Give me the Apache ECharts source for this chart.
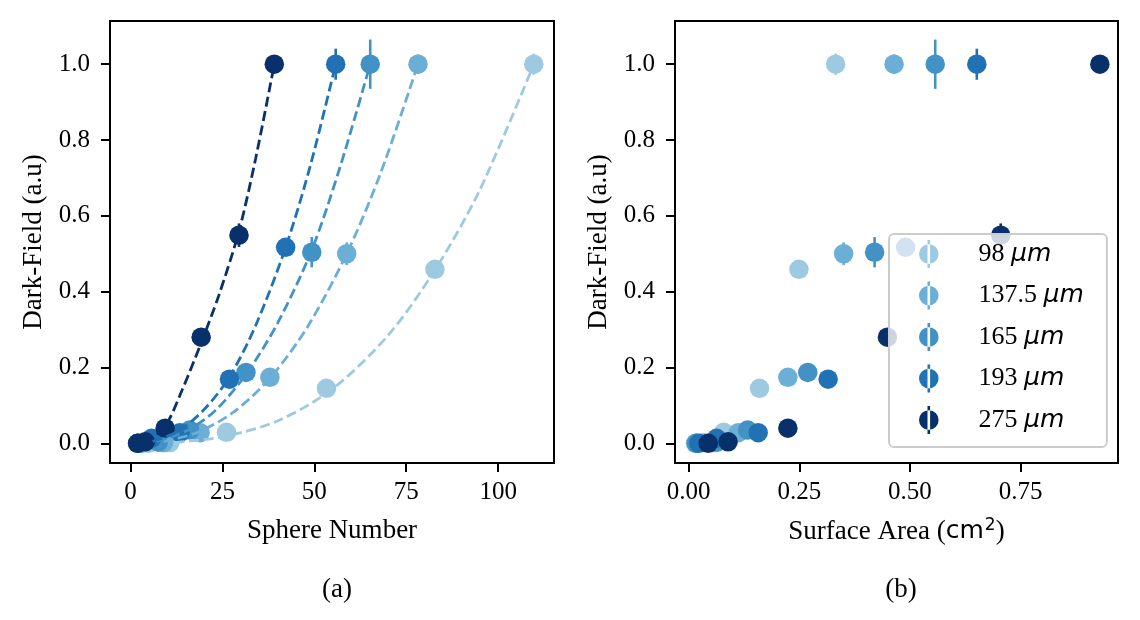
<!DOCTYPE html>
<html><head><meta charset="utf-8">
<script src="https://cdn.jsdelivr.net/npm/echarts@6/dist/echarts.min.js"></script>
<style>html,body{margin:0;padding:0;background:#fff}#c{width:1140px;height:620px}</style>
</head><body><div id="c"></div>
<script>
// ---- data ----
const sizeNames = ['98 µm', '137.5 µm', '165 µm', '193 µm', '275 µm'];
const sizeColors = ['#9ecae1', '#6baed6', '#4292c6', '#2171b5', '#08306b'];

const sphere98  = [5, 10.7, 26.1, 53.3, 82.8, 109.7];
const sphere137 = [3, 9, 18.9, 37.9, 58.8, 78.2];
const sphere165 = [2, 7.5, 16.1, 31.4, 49.3, 65.2];
const sphere193 = [2, 5.7, 13.4, 26.9, 42.2, 55.8];
const sphere275 = [1.9, 4.0, 9.4, 19.2, 29.5, 39.1];

const area98  = [0.015, 0.033, 0.079, 0.160, 0.249, 0.332];
const area137 = [0.018, 0.053, 0.112, 0.224, 0.350, 0.464];
const area165 = [0.017, 0.064, 0.133, 0.269, 0.420, 0.557];
const area193 = [0.023, 0.063, 0.157, 0.315, 0.490, 0.651];
const area275 = [0.044, 0.089, 0.224, 0.449, 0.705, 0.929];

const field98  = [0.0, 0.002, 0.029, 0.145, 0.459, 1.0];
const field137 = [0.0, 0.002, 0.028, 0.174, 0.500, 1.0];
const field165 = [0.0, 0.003, 0.035, 0.187, 0.504, 1.0];
const field193 = [0.0, 0.013, 0.028, 0.169, 0.517, 1.0];
const field275 = [0.0, 0.004, 0.040, 0.280, 0.549, 1.0];

const err98  = [0, 0, 0, 0, 0, 0.028];
const err137 = [0, 0, 0, 0, 0.030, 0.026];
const err165 = [0, 0, 0, 0, 0.040, 0.065];
const err193 = [0, 0, 0, 0, 0, 0.041];
const err275 = [0, 0, 0, 0, 0.031, 0];

// dashed fit curves
const fitX98  = [12, 25, 40, 55, 70, 82.8, 95, 109.7];
const fitY98  = [0.002, 0.017, 0.059, 0.144, 0.284, 0.457, 0.668, 1.0];
const fitX137 = [9, 18, 28, 38, 48, 58.8, 68, 78.2];
const fitY137 = [0.005, 0.028, 0.082, 0.173, 0.305, 0.500, 0.712, 1.0];
const fitX165 = [7, 15, 23, 31.4, 40, 49.3, 57, 65.2];
const fitY165 = [0.005, 0.032, 0.086, 0.182, 0.317, 0.510, 0.729, 1.0];
const fitX193 = [6, 13, 20, 26.9, 34, 42.2, 49, 55.8];
const fitY193 = [0.005, 0.032, 0.089, 0.175, 0.310, 0.517, 0.736, 1.0];
const fitX275 = [4, 9.4, 14, 19.2, 24, 29.5, 34, 39.1];
const fitY275 = [0.0, 0.045, 0.140, 0.265, 0.390, 0.560, 0.750, 1.0];

const xTicksLeft = [0, 25, 50, 75, 100];
const xTicksRight = [0, 0.25, 0.5, 0.75];
const yTicks = [0, 0.2, 0.4, 0.6, 0.8, 1.0];

// ---- build ----
const spheres = [sphere98, sphere137, sphere165, sphere193, sphere275];
const areas = [area98, area137, area165, area193, area275];
const fields = [field98, field137, field165, field193, field275];
const errs = [err98, err137, err165, err193, err275];
const fitXs = [fitX98, fitX137, fitX165, fitX193, fitX275];
const fitYs = [fitY98, fitY137, fitY165, fitY193, fitY275];

const SERIF = 'Liberation Serif, Times New Roman, DejaVu Serif, serif';
const TICK_FS = 25, LABEL_FS = 27;

function errSeries(axis, xs, ys, es, color, name) {
  const data = xs.map((x, i) => [x, ys[i], es[i]]).filter(d => d[2] > 0);
  return {
    type: 'custom', name, xAxisIndex: axis, yAxisIndex: axis, data, silent: true,
    encode: { x: 0, y: 1 },
    renderItem: (params, api) => {
      const x = api.value(0), y = api.value(1), e = api.value(2);
      const p1 = api.coord([x, y - e]), p2 = api.coord([x, y + e]);
      return { type: 'line', shape: { x1: p1[0], y1: p1[1], x2: p2[0], y2: p2[1] },
               style: { stroke: color, lineWidth: 2.6 } };
    }
  };
}

const series = [];
sizeNames.forEach((name, k) => {
  const color = sizeColors[k];
  series.push({
    type: 'line', name, xAxisIndex: 0, yAxisIndex: 0, silent: true,
    data: fitXs[k].map((x, i) => [x, fitYs[k][i]]),
    showSymbol: false, symbol: 'none', smooth: 0.3,
    lineStyle: { color, width: 2.8, type: [10, 4.5] }, itemStyle: { color }
  });
  series.push(errSeries(0, spheres[k], fields[k], errs[k], color, name));
  series.push({
    type: 'scatter', name, xAxisIndex: 0, yAxisIndex: 0, silent: true,
    data: spheres[k].map((x, i) => [x, fields[k][i]]),
    symbol: 'circle', symbolSize: 19.5, itemStyle: { color, opacity: 1 }
  });
});
sizeNames.forEach((name, k) => {
  const color = sizeColors[k];
  series.push(errSeries(1, areas[k], fields[k], errs[k], color, name));
  series.push({
    type: 'scatter', name, xAxisIndex: 1, yAxisIndex: 1, silent: true,
    data: areas[k].map((x, i) => [x, fields[k][i]]),
    symbol: 'circle', symbolSize: 19.5, itemStyle: { color, opacity: 1 }
  });
});

function xAxis(idx, min, max, ticks, fmt, name, nameStyle) {
  return {
    type: 'value', gridIndex: idx, min, max, name, nameLocation: 'middle', nameGap: 54,
    nameTextStyle: nameStyle,
    axisLine: { show: true, onZero: false, lineStyle: { color: '#000', width: 2 } },
    axisTick: { show: true, inside: false, length: 9, lineStyle: { color: '#000', width: 2 }, customValues: ticks },
    axisLabel: { show: true, margin: 17, color: '#000', fontFamily: SERIF, fontSize: TICK_FS,
                 customValues: ticks, formatter: fmt },
    splitLine: { show: false }
  };
}
function yAxis(idx) {
  return {
    type: 'value', gridIndex: idx, min: -0.052, max: 1.114,
    name: 'Dark-Field (a.u)', nameLocation: 'middle', nameRotate: 90, nameGap: 63,
    nameTextStyle: { fontFamily: SERIF, fontSize: LABEL_FS, color: '#000' },
    axisLine: { show: true, onZero: false, lineStyle: { color: '#000', width: 2 } },
    axisTick: { show: true, inside: false, length: 9, lineStyle: { color: '#000', width: 2 }, customValues: yTicks },
    axisLabel: { show: true, margin: 20, color: '#000', fontFamily: SERIF, fontSize: TICK_FS,
                 customValues: yTicks, formatter: v => v.toFixed(1) },
    splitLine: { show: false }
  };
}

const iconPath = 'path://M-1.3,-14h2.6v28h-2.6z M-9.8,0a9.8,9.8 0 1,0 19.6,0a9.8,9.8 0 1,0 -19.6,0z';

const option = {
  animation: false,
  backgroundColor: '#fff',
  title: [
    { text: '(a)', left: 332, top: 571, textAlign: 'center',
      textStyle: { fontFamily: SERIF, fontSize: LABEL_FS, fontWeight: 'normal', color: '#000' } },
    { text: '(b)', left: 896, top: 571, textAlign: 'center',
      textStyle: { fontFamily: SERIF, fontSize: LABEL_FS, fontWeight: 'normal', color: '#000' } }
  ],
  grid: [
    { left: 110, top: 21, width: 444, height: 442, show: true, borderColor: '#000', borderWidth: 2, backgroundColor: 'transparent' },
    { left: 675, top: 21, width: 443, height: 442, show: true, borderColor: '#000', borderWidth: 2, backgroundColor: 'transparent' }
  ],
  xAxis: [
    xAxis(0, -5.6, 115.2, xTicksLeft, v => String(v), 'Sphere Number',
          { fontFamily: SERIF, fontSize: LABEL_FS, color: '#000' }),
    xAxis(1, -0.031, 0.970, xTicksRight, v => v.toFixed(2), '{a|Surface Area (}{b|cm}{s|2}{a|)}',
          { fontFamily: SERIF, fontSize: LABEL_FS, color: '#000',
            rich: { a: { fontFamily: SERIF, fontSize: LABEL_FS, color: '#000' },
                    b: { fontFamily: 'DejaVu Sans', fontSize: 25, color: '#000' },
                    s: { fontFamily: 'DejaVu Sans', fontSize: 17, color: '#000', verticalAlign: 'top', padding: [0, 0, 12, 1] } } })
  ],
  yAxis: [yAxis(0), yAxis(1)],
  legend: {
    orient: 'vertical', left: 889, top: 234, selectedMode: false,
    padding: [5, 23, 12, 30], itemGap: 11.5, itemWidth: 19.6, itemHeight: 28,
    backgroundColor: 'rgba(255,255,255,0.8)', borderColor: '#cccccc', borderWidth: 2, borderRadius: 5,
    data: sizeNames.map((n, i) => ({ name: n, icon: iconPath, itemStyle: { color: sizeColors[i] } })),
    formatter: n => n.split(' ')[0] + ' {u|µm}',
    textStyle: { fontFamily: SERIF, fontSize: 26, color: '#000', lineHeight: 30, padding: [0, 0, 0, 35],
                 rich: { u: { fontFamily: 'DejaVu Sans', fontStyle: 'italic', fontSize: 25, color: '#000' } } }
  },
  series
};

const chart = echarts.init(document.getElementById('c'), null, { renderer: 'canvas' });
chart.setOption(option);
</script>
</body></html>
